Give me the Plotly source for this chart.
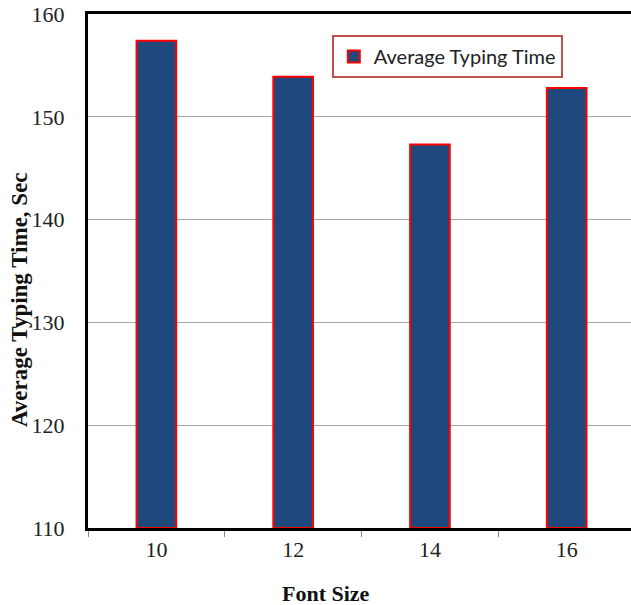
import plotly.graph_objects as go

font_sizes = ["10", "12", "14", "16"]
avg_typing_time = [157.4, 153.9, 147.3, 152.8]
series_name = "Average Typing Time"
y_base = 110

fig = go.Figure()
fig.add_trace(go.Bar(
    x=font_sizes, y=[v - y_base for v in avg_typing_time], base=y_base,
    name=series_name,
    marker=dict(color="#1F497D", line=dict(color="#FF0000", width=2)),
    width=0.29,
))

serif = "Liberation Serif"
fig.update_layout(
    width=631, height=605,
    margin=dict(l=88, r=0, t=14, b=77),
    plot_bgcolor="white", paper_bgcolor="white",
    showlegend=True,
    legend=dict(x=0.449, y=0.959, xanchor="left", yanchor="top",
                bordercolor="#C0504D", borderwidth=2, bgcolor="white",
                font=dict(family="Lato", size=20, color="#222222")),
    annotations=[
        dict(text="<b>Font Size</b>", xref="paper", yref="paper",
             x=0.438, y=-0.1265, xanchor="center", yanchor="middle",
             showarrow=False, font=dict(family=serif, size=22, color="#111111")),
        dict(text="<b>Average Typing Time, Sec</b>", xref="paper", yref="paper",
             x=-0.125, y=0.4436, xanchor="center", yanchor="middle", textangle=-90,
             showarrow=False, font=dict(family=serif, size=23, color="#111111")),
    ],
)
fig.update_xaxes(
    type="category", range=[-0.5, 3.47],
    showline=True, linecolor="black", linewidth=3, mirror=True,
    ticks="outside", tickson="boundaries", tickcolor="#888888", ticklen=6,
    tickfont=dict(family=serif, size=22, color="#222222"),
    showgrid=False,
)
fig.update_yaxes(
    range=[110, 160], dtick=10,
    showline=True, linecolor="black", linewidth=3,
    showgrid=True, gridcolor="#A6A6A6", gridwidth=1,
    ticks="", ticklabelstandoff=16,
    tickfont=dict(family=serif, size=22, color="#222222"),
    zeroline=False,
)
fig.write_html("out.html")
